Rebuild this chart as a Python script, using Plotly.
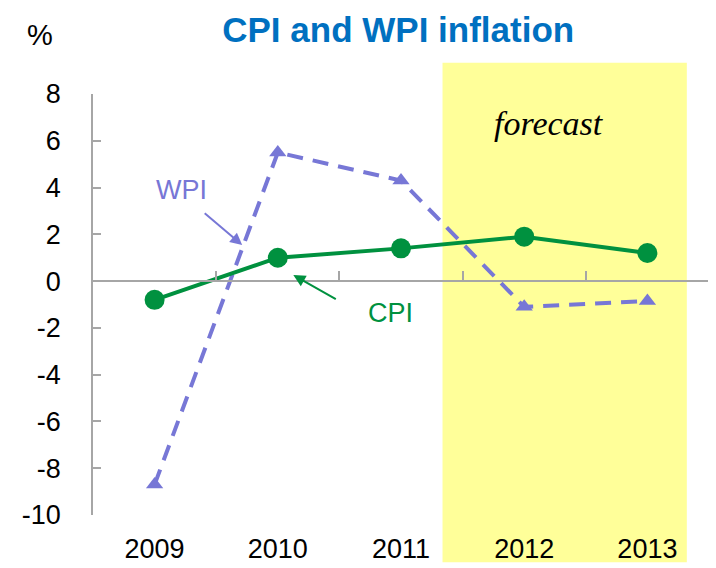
import plotly.graph_objects as go

years = ["2009", "2010", "2011", "2012", "2013"]
cpi = [-0.8, 1.0, 1.4, 1.9, 1.2]
wpi = [-8.7, 5.5, 4.3, -1.1, -0.85]
y_ticks = [8, 6, 4, 2, 0, -2, -4, -6, -8, -10]
y_tick_text = ["8", "6", "4", "2", "0", "-2", "-4", "-6", "-8", "-10"]

WPI_COLOR = "#7777D6"
CPI_COLOR = "#00913F"
AXIS_COLOR = "#A6A6A6"

fig = go.Figure()

fig.add_trace(go.Scatter(
    x=years, y=wpi, mode="lines+markers",
    line=dict(color=WPI_COLOR, width=4, dash="16px,10px"),
    marker=dict(symbol="triangle-up", size=15, color=WPI_COLOR),
    showlegend=False, hoverinfo="skip"))
fig.add_trace(go.Scatter(
    x=years, y=cpi, mode="lines+markers",
    line=dict(color=CPI_COLOR, width=4),
    marker=dict(symbol="circle", size=20, color=CPI_COLOR),
    showlegend=False, hoverinfo="skip"))
# invisible trace for the zero-crossing axis with boundary ticks
fig.add_trace(go.Scatter(x=[-0.5, 4.5], y=[0, 0], xaxis="x2", mode="lines",
                         line=dict(width=0), showlegend=False, hoverinfo="skip"))

fig.update_layout(
    width=716, height=568,
    margin=dict(l=85, r=15, t=86, b=61),
    plot_bgcolor="white", paper_bgcolor="white",
    font=dict(family="Arial, Liberation Sans, sans-serif", color="black"),
    title=dict(text="<b>CPI and WPI inflation</b>", x=0.545, xanchor="center",
               y=0.961, yanchor="middle",
               font=dict(size=35, color="#0070C0", family="Arial, Liberation Sans, sans-serif")),
    xaxis=dict(type="category", range=[-0.5, 4.5], showline=False, showgrid=False,
               zeroline=False, ticks="", tickfont=dict(size=27),
               ticklabelstandoff=15, automargin=False),
    xaxis2=dict(overlaying="x", anchor="free", position=10 / 18, range=[-0.5, 4.5],
                showline=True, linecolor=AXIS_COLOR, linewidth=1.5,
                tickvals=[-0.5, 0.5, 1.5, 2.5, 3.5, 4.5], ticks="inside",
                ticklen=9, tickcolor=AXIS_COLOR, tickwidth=1.5,
                showticklabels=False, showgrid=False, zeroline=False, automargin=False),
    yaxis=dict(range=[-10, 8], tickvals=y_ticks, ticktext=y_tick_text,
               showline=True, linecolor=AXIS_COLOR,
               linewidth=1.5, ticks="inside", ticklen=8, tickcolor=AXIS_COLOR,
               tickwidth=1.5, showgrid=False, zeroline=False,
               tickfont=dict(size=27), ticklabelstandoff=25, automargin=False),
)

fig.add_shape(type="rect", xref="x", yref="paper", x0=2.337, x1=4.32,
              y0=-0.112, y1=1.074, fillcolor="#FFFF99", line=dict(width=0),
              layer="below")

fig.add_annotation(text="<i>forecast</i>", x=3.2, y=6.75, xref="x", yref="y",
                   xanchor="center", yanchor="middle", showarrow=False,
                   font=dict(size=34, family="Liberation Serif, DejaVu Serif, serif", color="black"))
fig.add_annotation(text="%", xref="paper", yref="paper", x=-0.086, y=1.14,
                   xanchor="center", yanchor="middle",
                   showarrow=False, font=dict(size=29, color="black"))
fig.add_annotation(text="WPI", x=0.215, y=3.9, xref="x", yref="y", showarrow=False,
                   xanchor="center", yanchor="middle",
                   font=dict(size=27, color=WPI_COLOR))
fig.add_annotation(text="CPI", x=1.915, y=-1.37, xref="x", yref="y", showarrow=False,
                   xanchor="center", yanchor="middle",
                   font=dict(size=27, color=CPI_COLOR))
fig.add_annotation(text="", x=0.711, y=1.54, xref="x", yref="y", ax=-39, ay=-33,
                   showarrow=True, arrowhead=2, arrowsize=1.2, arrowwidth=2,
                   arrowcolor=WPI_COLOR)
fig.add_annotation(text="", x=1.126, y=0.26, xref="x", yref="y", ax=44, ay=25,
                   showarrow=True, arrowhead=2, arrowsize=1.2, arrowwidth=2,
                   arrowcolor=CPI_COLOR)

fig.write_html("out.html")
